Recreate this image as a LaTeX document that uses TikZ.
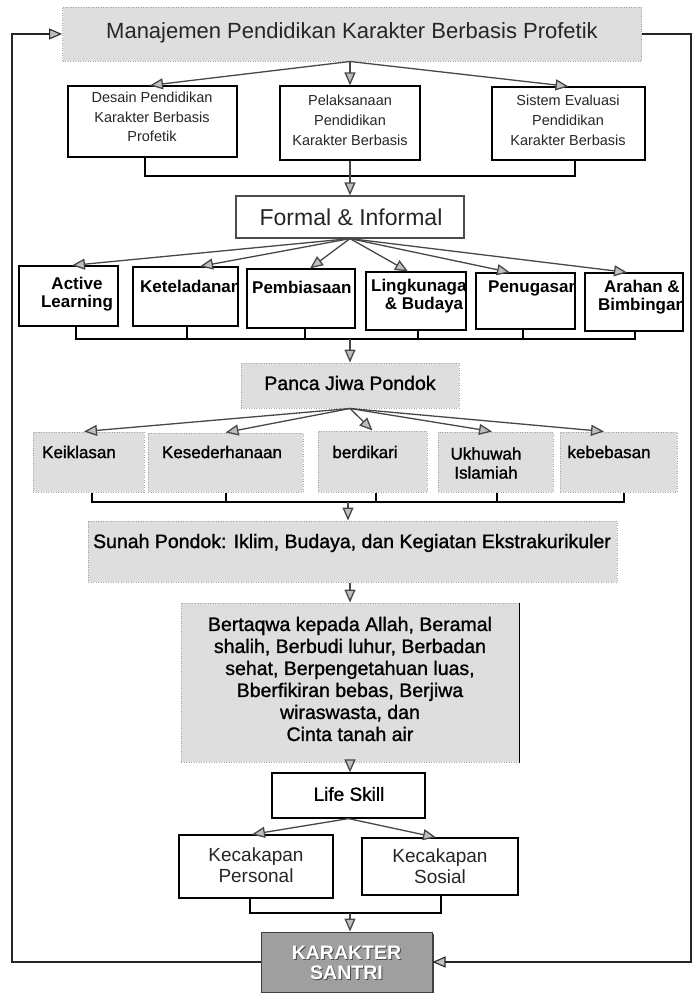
\documentclass[tikz,border=0pt]{standalone}
\usepackage{fontspec}
\setmainfont{Liberation Sans}
\newfontfamily\semib{Liberation Sans}[FakeBold=1.2]
\usetikzlibrary{arrows.meta,shadows}
\newcommand\fsz[2]{\fontsize{#1}{#2}\selectfont}

\begin{document}
\begin{tikzpicture}[x=1pt,y=-1pt,
  box/.style={draw=black, line width=1.2pt, fill=white, inner sep=0pt},
  graybox/.style={draw=gray!70, dash pattern=on 1pt off 1.5pt, line width=1pt, fill=gray!26, inner sep=0pt},
  lbl/.style={inner sep=0pt, align=center, text=black!85},
  tip/.style={-{Triangle[length=13pt,width=11pt,fill=gray!50]}},
  arr/.style={draw=black!72, line width=1.3pt, tip},
  link/.style={draw=black, line width=1.4pt},
  loopline/.style={draw=black!85, line width=1.1pt},
]
\useasboundingbox (0,0) rectangle (693,993);

% ---------- boxes ----------
\node[graybox, minimum width=579pt, minimum height=54pt] (top) at (352,34) {};
\node[box, minimum width=169pt, minimum height=71pt] (desain) at (152.5,121.5) {};
\node[box, minimum width=140pt, minimum height=74pt] (pelak) at (350,123) {};
\node[box, minimum width=153pt, minimum height=73pt] (sistem) at (568.5,123.5) {};
\node[box, draw=black!70, minimum width=228pt, minimum height=42pt] (formal) at (350,217) {};

\node[box, minimum width=99pt, minimum height=60pt] (active) at (68.5,296) {};
\node[box, minimum width=105pt, minimum height=59pt] (ketel) at (185.5,296.5) {};
\node[box, minimum width=108pt, minimum height=59pt] (pemb) at (301,298.5) {};
\node[box, minimum width=100pt, minimum height=58pt] (lingk) at (416,301) {};
\node[box, minimum width=99pt, minimum height=56pt] (penug) at (525.5,301) {};
\node[box, minimum width=98pt, minimum height=58pt] (arahan) at (634,302) {};

\node[graybox, minimum width=218pt, minimum height=45pt] (panca) at (350,385.5) {};
\node[graybox, minimum width=111pt, minimum height=60pt] (keik) at (88.5,462) {};
\node[graybox, minimum width=155pt, minimum height=59pt] (kesed) at (225.5,462.5) {};
\node[graybox, minimum width=109pt, minimum height=61pt] (berd) at (372.5,461.5) {};
\node[graybox, minimum width=115pt, minimum height=60pt] (ukh) at (495.5,462) {};
\node[graybox, minimum width=117pt, minimum height=60pt] (kebe) at (618.5,462) {};

\node[graybox, minimum width=529pt, minimum height=61pt] (sunah) at (352.5,551.5) {};
\node[graybox, minimum width=338pt, minimum height=159pt] (taqwa) at (350,682.5) {};
\draw[black, line width=1.2pt] (taqwa.north east) -- (taqwa.south east);

\node[box, minimum width=153pt, minimum height=45pt] (life) at (348.5,795.5) {};
\node[box, minimum width=154pt, minimum height=63pt] (pers) at (256,866.5) {};
\node[box, minimum width=156pt, minimum height=57pt] (sos) at (440,866.5) {};
\node[draw=black!75, line width=1pt, fill=gray!75, inner sep=0pt,
      minimum width=171pt, minimum height=60pt,
      drop shadow={shadow xshift=2pt, shadow yshift=-2pt, fill=black!75, opacity=1}] (kar) at (346.5,962) {};

% ---------- labels ----------
\node[lbl, font=\fsz{22}{26}] (ttop) at (352,33) {Manajemen Pendidikan Karakter Berbasis Profetik};
\node[lbl, font=\fsz{14.5}{19.5}] (tdesain) at (152,117) {Desain Pendidikan\\Karakter Berbasis\\Profetik};
\begin{scope}
  \clip (pelak.south west) rectangle (pelak.north east);
  \node[lbl, font=\fsz{14.5}{20}, anchor=north] (tpelak) at (350,95) {Pelaksanaan\\Pendidikan\\Karakter Berbasis\\[6pt]Profetik};
\end{scope}
\begin{scope}
  \clip (sistem.south west) rectangle (sistem.north east);
  \node[lbl, font=\fsz{14.5}{20}, anchor=north] (tsistem) at (568,95) {Sistem Evaluasi\\Pendidikan\\Karakter Berbasis\\[6pt]Profetik};
\end{scope}
\node[lbl, font=\fsz{23}{26}] (tformal) at (351,217) {Formal \& Informal};

\begin{scope}[every node/.append style={lbl, text=black, font=\bfseries\fsz{17}{18.5}}]
  \node (tactive) at (77,294) {Active\\Learning};
  \begin{scope}
    \clip (ketel.south west) rectangle (ketel.north east);
    \node[anchor=west] (tketel) at (140,286) {Keteladanan};
  \end{scope}
  \node[anchor=west] (tpemb) at (252,287) {Pembiasaan};
  \begin{scope}
    \clip (lingk.south west) rectangle (lingk.north east);
    \node (tlingk) at (424,296) {Lingkunagan\\\& Budaya};
  \end{scope}
  \begin{scope}
    \clip (penug.south west) rectangle (penug.north east);
    \node[anchor=west] (tpenug) at (488,288) {Penugasan};
  \end{scope}
  \begin{scope}
    \clip (arahan.south west) rectangle (arahan.north east);
    \node (tarahan) at (642,297) {Arahan \&\\Bimbingan};
  \end{scope}
\end{scope}

\node[lbl, text=black, font=\semib\fsz{19.5}{22}] (tpanca) at (350,383) {Panca Jiwa Pondok};
\begin{scope}[every node/.append style={lbl, text=black, font=\semib\fsz{17}{19}}]
  \node (tkeik) at (79,452) {Keiklasan};
  \node (tkesed) at (222,452) {Kesederhanaan};
  \node (tberd) at (365,452) {berdikari};
  \node (tukh) at (486,463) {Ukhuwah\\Islamiah};
  \node (tkebe) at (609,452) {kebebasan};
\end{scope}

\node[lbl, text=black, font=\semib\fsz{19.5}{22}] (tsunah) at (352,543) {Sunah Pondok: Iklim, Budaya, dan Kegiatan Ekstrakurikuler};
\node[lbl, text=black, font=\semib\fsz{19.5}{22}] (ttaqwa) at (350,679)
  {Bertaqwa kepada Allah, Beramal\\shalih, Berbudi luhur, Berbadan\\sehat, Berpengetahuan luas,\\Bberfikiran bebas, Berjiwa\\wiraswasta, dan\\Cinta tanah air};

\node[lbl, text=black, font=\semib\fsz{19}{20}] (tlife) at (349,794) {Life Skill};
\node[lbl, font=\fsz{19}{20.5}] (tpers) at (256,865) {Kecakapan\\Personal};
\node[lbl, font=\fsz{19}{20.5}] (tsos) at (440,866) {Kecakapan\\Sosial};
\node[lbl, text=black!70, font=\bfseries\fsz{19.5}{20.5}] (tkarsh) at (347.5,964) {KARAKTER\\SANTRI};
\node[lbl, text=white, font=\bfseries\fsz{19.5}{20.5}] (tkar) at (346.5,963) {KARAKTER\\SANTRI};

% ---------- fan-out arrows ----------
\draw[arr] ([xshift=-2pt]top.south) -- ([xshift=-2.5pt]desain.north);
\draw[arr] ([xshift=-2pt]top.south) -- (pelak.north);
\draw[arr] ([xshift=-2pt]top.south) -- (sistem.north);

\draw[arr] (formal.south) -- ([xshift=3.5pt]active.north);
\draw[arr] (formal.south) -- ([xshift=14.5pt]ketel.north);
\draw[arr] (formal.south) -- ([xshift=9pt]pemb.north);
\draw[arr] (formal.south) -- ([xshift=-8pt]lingk.north);
\draw[arr] (formal.south) -- ([xshift=-15.5pt]penug.north);
\draw[arr] (formal.south) -- ([xshift=-7pt]arahan.north);

\draw[arr] (panca.south) -- ([xshift=-4.5pt]keik.north);
\draw[arr] (panca.south) -- (kesed.north);
\draw[arr] (panca.south) -- (berd.north);
\draw[arr] (panca.south) -- ([xshift=-3.5pt]ukh.north);
\draw[arr] (panca.south) -- ([xshift=-14.5pt]kebe.north);

\draw[arr] (life.south) -- ([xshift=-4pt]pers.north);
\draw[arr] (life.south) -- ([xshift=-4pt]sos.north);

% ---------- joining brackets ----------
\coordinate (j1) at (350,176);
\draw[link] ([xshift=-7.5pt]desain.south) |- (j1) -| ([xshift=6.5pt]sistem.south);
\draw[arr] (pelak.south) -- (formal.north);

\coordinate (j2) at (350,339);
\draw[link] ([xshift=7.5pt]active.south) |- (j2) -| ([xshift=1pt]arahan.south);
\foreach \n/\s in {ketel/1.5, pemb/4, lingk/2, penug/-2.5}
  \draw[link] ([xshift=\s pt]\n.south) -- ([xshift=\s pt]\n.south |- j2);
\draw[arr] (j2) -- (panca.north);

\coordinate (j3) at (348,502);
\draw[link] ([xshift=3.5pt]keik.south) |- (j3) -| ([xshift=5.5pt]kebe.south);
\foreach \n/\s in {kesed/0.5, berd/3.5, ukh/1.5}
  \draw[link] ([xshift=\s pt]\n.south) -- ([xshift=\s pt]\n.south |- j3);
\draw[arr] (j3) -- (sunah.north -| j3);

\draw[arr] (sunah.south -| taqwa.north) -- (taqwa.north);
\draw[arr] (taqwa.south) -- (life.north -| taqwa.south);

\coordinate (j4) at (350,913);
\draw[link] ([xshift=-6pt]pers.south) |- (j4) -| ([xshift=1pt]sos.south);
\draw[arr] (j4) -- (kar.north -| j4);

% ---------- feedback loop ----------
\coordinate (lt) at (12,34);
\coordinate (rb) at (691,962);
\draw[loopline, tip] (kar.west) -| (lt) -- (top.west);
\draw[loopline, tip] (top.east) -| (rb) -- (kar.east);
\end{tikzpicture}
\end{document}
